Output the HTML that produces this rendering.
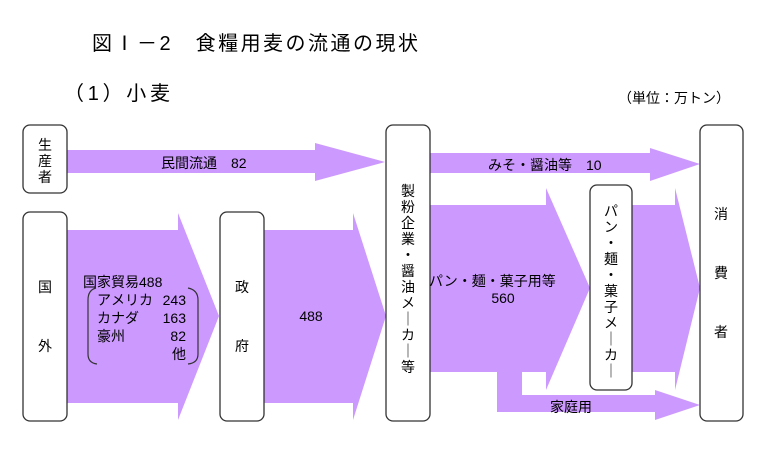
<!DOCTYPE html>
<html><head><meta charset="utf-8"><style>
html,body{margin:0;padding:0;background:#fff;}
svg text{font-family:"Liberation Sans","Noto Sans CJK JP",sans-serif;fill:#000;}
</style></head><body>
<svg width="760" height="453" viewBox="0 0 760 453" xmlns="http://www.w3.org/2000/svg">
<text x="92" y="50" font-size="20" textLength="326" lengthAdjust="spacing">図Ⅰ－2　食糧用麦の流通の現状</text>
<text x="64" y="100" font-size="20" textLength="106" lengthAdjust="spacing">（1）小麦</text>
<text x="618" y="103" font-size="14">（単位：万トン）</text>
<g fill="#cc99ff">
<polygon points="67,150 315,150 315,143 385,162 315,181 315,173 67,173"/>
<polygon points="67,230 178,230 178,213 219,316 178,420 178,403 67,403"/>
<polygon points="264,230 353,230 353,213 386,316 353,420 353,403 264,403"/>
<polygon points="430,153 650,153 650,148 700,164 650,181 650,173 430,173"/>
<polygon points="430,205 546,205 546,188 590,288 546,390 546,372 522,372 522,395 655,395 655,390 700,405 655,420 655,412 497,412 497,372 430,372"/>
<polygon points="632,205 675,205 675,188 700,288 675,390 675,372 632,372"/>
</g>
<g fill="#fff" stroke="#333" stroke-width="1.3">
<rect x="23" y="125" width="44" height="68" rx="7"/>
<rect x="23" y="212" width="44" height="209" rx="7"/>
<rect x="220" y="212" width="44" height="209" rx="7"/>
<rect x="386" y="125" width="44" height="296" rx="7"/>
<rect x="590" y="185" width="42" height="205" rx="7"/>
<rect x="700" y="125" width="43" height="296" rx="7"/>
</g>
<g font-size="14" text-anchor="middle">
<text x="45" y="150">生</text><text x="45" y="166">産</text><text x="45" y="182">者</text>
<text x="45" y="292">国</text><text x="45" y="351">外</text>
<text x="242" y="292">政</text><text x="242" y="351">府</text>
<text x="721" y="219">消</text><text x="721" y="278">費</text><text x="721" y="337">者</text>
<text x="311" y="321">488</text>
<text x="503" y="303">560</text>
<text x="571" y="412">家庭用</text>
</g>
<text x="161" y="168" font-size="14">民間流通　82</text>
<text x="488" y="170" font-size="14">みそ・醤油等　10</text>
<text x="429" y="286" font-size="14">パン・麺・菓子用等</text>
<g font-size="14" text-anchor="middle">
<text x="408" y="196">製</text><text x="408" y="212">粉</text><text x="408" y="228">企</text><text x="408" y="244">業</text><text x="408" y="260">・</text><text x="408" y="276">醤</text><text x="408" y="292">油</text><text x="408" y="308">メ</text><text x="408" y="324">｜</text><text x="408" y="340">カ</text><text x="408" y="356">｜</text><text x="408" y="372">等</text>
<text x="611" y="216">パ</text><text x="611" y="232">ン</text><text x="611" y="248">・</text><text x="611" y="264">麺</text><text x="611" y="280">・</text><text x="611" y="296">菓</text><text x="611" y="312">子</text><text x="611" y="328">メ</text><text x="611" y="344">｜</text><text x="611" y="360">カ</text><text x="611" y="376">｜</text>
</g>
<g font-size="14">
<text x="83" y="287">国家貿易488</text>
<text x="97" y="305">アメリカ</text><text x="186" y="305" text-anchor="end">243</text>
<text x="97" y="323">カナダ</text><text x="186" y="323" text-anchor="end">163</text>
<text x="97" y="341">豪州</text><text x="186" y="341" text-anchor="end">82</text>
<text x="186" y="359" text-anchor="end">他</text>
</g>
<path d="M96,288 Q88,290 88,300 L88,354 Q88,363 97,364" fill="none" stroke="#333" stroke-width="1.2"/>
<path d="M188,288 Q198,290 198,300 L198,354 Q198,363 188,364" fill="none" stroke="#333" stroke-width="1.2"/>
</svg>
</body></html>
